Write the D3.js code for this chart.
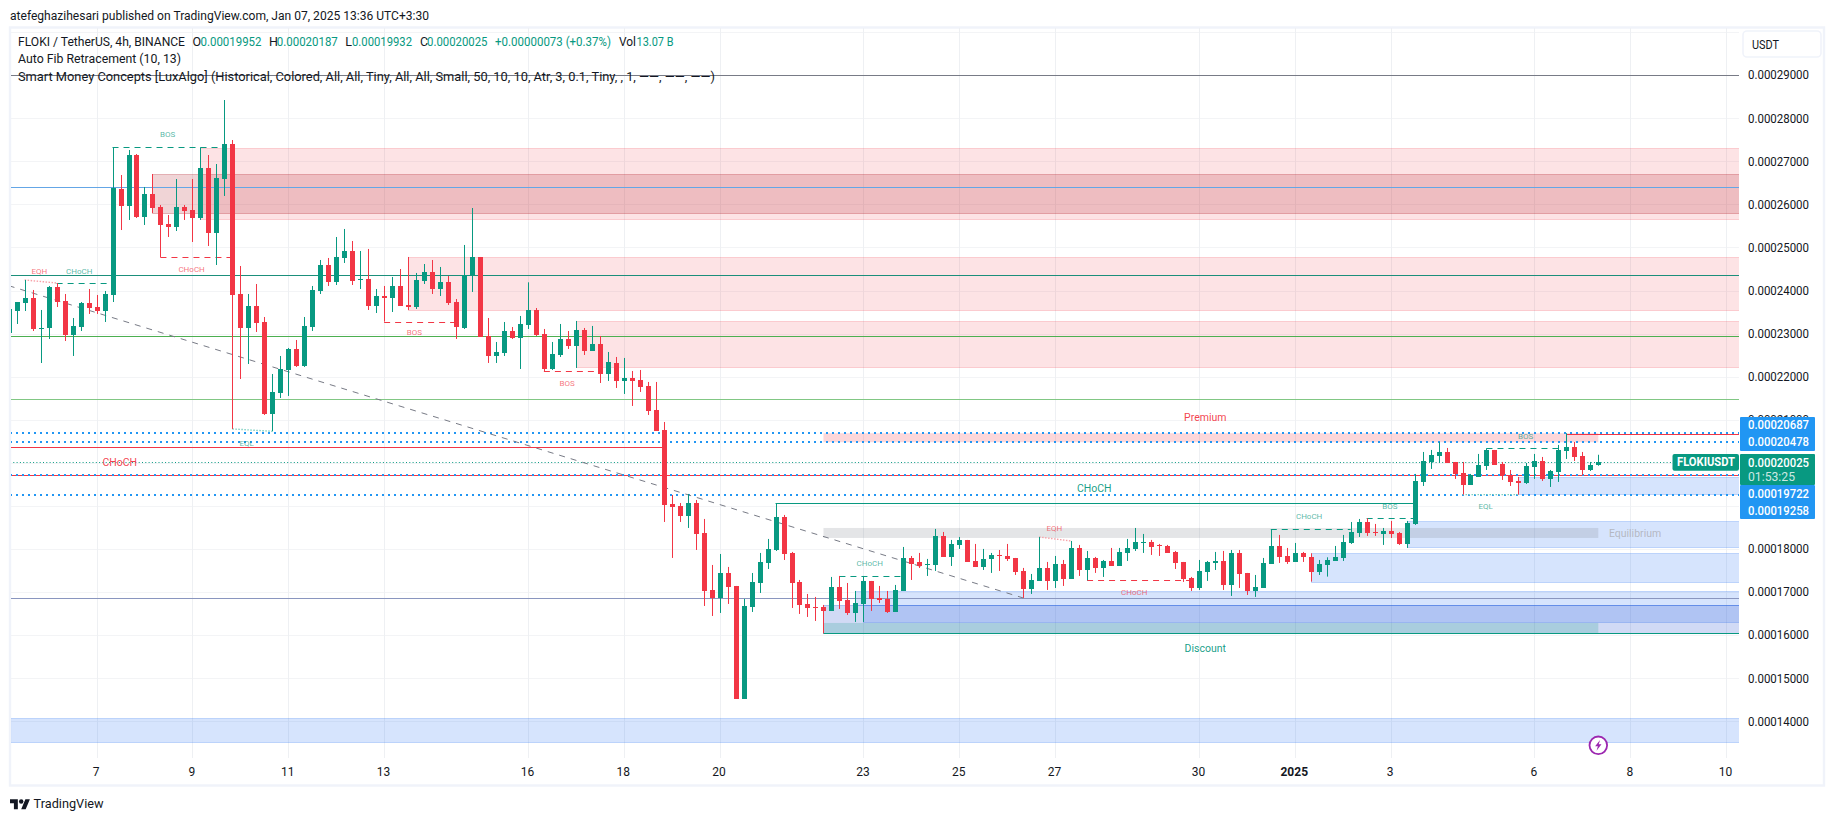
<!DOCTYPE html>
<html><head><meta charset="utf-8">
<script src="https://cdn.jsdelivr.net/npm/d3@7/dist/d3.min.js"></script>
<style>html,body{margin:0;padding:0;background:#fff}svg{display:block}text{font-family:Roboto,sans-serif}</style>
</head><body><div id="chart"></div>
<script>
// Prices are in units of 0.00000001 USDT. Candles are 4h apart.
const opens=[23006,23524,23710,23826,23107,23130,24081,23757,22967,23153,23710,23617,23524,23896,26356,25962,27145,25706,26240,25938,25544,25474,25938,25869,25683,26844,25335,26588,27401,23919,23130,23640,
23269,21134,21621,22155,22643,22248,23153,23989,24592,24198,24755,24917,24244,24267,23641,23873,23826,24105,23664,23617,24221,24430,24035,24198,23733,23130,24360,24778,22944,22480,22550,23060,22898,
23200,23548,22991,22178,22503,22875,22712,23084,22596,22759,22062,22318,21900,21970,21923,21784,21227,20763,19045,18999,18766,19068,18372,17049,16863,17443,17142,14519,16654,17211,17676,17977,
18743,17908,17235,16724,16654,16654,16562,17119,16817,16515,16724,17258,16863,16840,16538,17026,17792,17699,17629,17629,18302,17815,18094,18210,17722,17583,17769,17861,17838,17792,17490,17072,
17258,17560,17258,17652,17304,18024,17513,17792,17560,17722,17606,17908,18001,18140,18163,18101,18070,17931,17699,17328,17095,17467,17676,17722,17165,17908,17444,17026,17095,17652,18070,
17838,17699,17908,17815,17475,17629,17722,17792,18140,18372,18627,18395,18349,18419,18372,18117,18581,19556,20020,20159,20252,20020,19765,19486,19672,19927,20299,19974,19718,19579,19533,19904,20043,19626,19788,20275,20368,20159,19834,19952];
const highs=[23571,23733,24244,24012,23548,24105,24174,23919,23362,23733,24035,23896,23989,27323,26681,27261,27168,26403,26704,25985,25753,26588,25985,26588,27323,27145,26936,28422,27493,24569,23919,24151,
23385,22062,22480,22666,22851,23385,24105,24708,24755,25242,25428,25149,24917,24964,24035,24105,24314,24499,24778,24407,24615,24708,24546,24337,23803,25057,25915,24778,23362,22805,23269,23153,23409,
24190,23594,23107,22805,23223,23060,23293,23130,23177,22944,22573,22457,22434,22132,22155,21877,21877,20948,19254,19068,19277,19138,18697,17629,17884,17583,17142,16840,17443,17908,18233,19061,
18790,17931,17281,16956,16887,16701,17351,17374,17211,17026,17374,17258,17142,17026,17165,18047,17838,17908,17769,18465,18395,18210,18279,18210,18117,18001,17908,17977,18117,17792,17560,17420,
18279,17699,17838,17745,18186,18094,17954,17815,17745,18024,18024,18233,18488,18349,18210,18117,18094,17954,17699,17351,17745,17722,17931,17954,17977,17977,17444,17397,17792,18457,18326,
18024,18140,17931,17900,17745,17807,18070,18326,18627,18697,18713,18581,18488,18651,18395,18651,19742,20252,20299,20484,20345,20020,20020,19742,20206,20337,20299,20020,19834,19672,19997,20206,20136,19834,20415,20687,20484,20252,20020,20187];
const lows=[23006,23223,23524,23060,22317,22874,23617,22828,22480,23060,23455,23455,23269,23733,25404,25637,25683,25521,25799,24770,25242,25381,25637,25126,25637,25033,24592,26194,20786,21946,22294,23037,
21111,20732,21505,21552,22225,22225,23060,23919,24105,24128,24639,24128,24035,23548,23478,23277,23501,23641,23548,23571,24151,23919,23873,23664,22875,23107,23966,22921,22318,22318,22480,22875,22178,
23107,22944,22124,22155,22457,22643,22202,22503,22596,21853,21900,21737,21598,21320,21645,21111,20739,18627,17792,18627,18488,17977,16677,16445,16515,16724,14519,14519,16538,16979,17536,17954,
17745,16631,16492,16422,16329,16043,16562,16608,16469,16306,16306,16562,16747,16515,16538,17026,17281,17560,17374,17490,17815,17606,18001,17699,17583,17513,17444,17490,17722,17397,16863,16956,
17258,17049,17095,17142,17304,17374,17273,17444,17351,17606,17606,17722,17954,17908,17861,17838,17908,17536,17235,17026,17049,17258,17513,17049,16910,17095,16933,16887,17095,17652,17676,
17653,17699,17699,17243,17397,17359,17722,17722,18117,18279,18303,18303,18094,18256,18094,18024,18558,19463,19858,19997,19997,19626,19262,19486,19672,19834,19951,19602,19463,19262,19509,19626,19579,19440,19556,20090,20043,19718,19811,19932];
const closes=[23571,23733,23826,23107,23130,24081,23733,22967,23176,23710,23594,23524,23919,26379,25962,27145,25706,26240,25915,25521,25474,25938,25845,25683,26844,25335,26611,27401,23896,23130,23640,23246,
21134,21644,22178,22643,22248,23176,24012,24592,24198,24778,24917,24221,24267,23641,23873,23826,24105,23641,23617,24244,24430,24035,24198,23710,23153,24360,24778,22921,22480,22573,23060,22898,23223,
23548,22968,22178,22527,22875,22712,23084,22596,22759,22062,22341,21900,21970,21900,21761,21204,20739,19022,18975,18766,19068,18349,17026,16863,17443,17118,14519,16677,17235,17699,18000,18743,
17885,17211,16701,16631,16631,16562,17119,16794,16515,16747,17258,16840,16817,16538,17049,17792,17652,17606,17652,18302,17815,18117,18210,17699,17583,17769,17861,17838,17769,17467,17072,17281,
17560,17258,17652,17304,18024,17513,17792,17560,17722,17606,17931,18024,18163,18163,18047,18078,17908,17676,17304,17095,17490,17699,17722,17165,17908,17420,17026,17119,17676,18070,17815,
17699,17908,17815,17475,17653,17738,17815,18163,18395,18627,18372,18372,18419,18349,18117,18604,19579,20043,20183,20252,19997,19742,19486,19718,19951,20299,19951,19718,19556,19533,19927,20043,19626,19811,20299,20368,20136,19834,19951,20025];

const priceTicks=[29000,28000,27000,26000,25000,24000,23000,22000,21000,18000,17000,16000,15000,14000];
const gridPrices=[30000,29000,28000,27000,26000,25000,24000,23000,22000,21000,20000,19000,18000,17000,16000,15000,14000];
const dateTicks=[[2024,11,7,"7"],[2024,11,9,"9"],[2024,11,11,"11"],[2024,11,13,"13"],[2024,11,16,"16"],[2024,11,18,"18"],[2024,11,20,"20"],[2024,11,23,"23"],[2024,11,25,"25"],[2024,11,27,"27"],[2024,11,30,"30"],[2025,0,1,"2025"],[2025,0,3,"3"],[2025,0,6,"6"],[2025,0,8,"8"],[2025,0,10,"10"]];

// [first candle, upper price, lower price]
const swingBearZones=[[24,27301,25653],[50,24771,23555],[71,23286,22218]];
const internalBearZones=[[18,26698,25806]];
const swingBullZones=[[0,14071,13514],[106,17021,16701],[107,16701,16313],[163,17901,17242],[175,18644,18040],[189,19679,19278]];
const internalBullZones=[[102,16701,16044]];
const premiumBand=[20687,20478], equilibriumBand=[18488,18256], discountBand=[16283,16044];
const bandStart=102, bandEnd=199;

// [price, colour]
const fibLevels=[[29000,"#787b86"],[26396,"#64a6e6"],[24353,"#1b8f7b"],[22938,"#4caf50"],[21489,"#81c784"],[19711,"#f23645"],[16857,"#8a96bf"]];
// [first candle, last candle or null for the right edge, price, colour]
const solidSegments=[[0,82,20361,"#f23645"],[96,176,19061,"#089981"],[102,null,16044,"#089981"],[195,null,20680,"#f23645"]];
const blueLevels=[20687,20478,19722,19258];
const lastPrice=20025;
// [first candle, last candle, price, colour]
const dashedBreaks=[[13,27,27323,"#089981"],[19,28,24770,"#f23645"],[6,13,24174,"#089981"],[47,56,23277,"#f23645"],[67,74,22124,"#f23645"],[104,112,17374,"#089981"],[135,148,17273,"#f23645"],[158,168,18457,"#089981"],[170,176,18713,"#089981"],[185,194,20337,"#089981"]];
// [candle a, price a, candle b, price b, colour]
const equalLevels=[[2,24244,6,24174,"#f7a1a8"],[28,20786,33,20732,"#7fd0c2"],[129,18279,133,18186,"#f7a1a8"],[182,19262,189,19262,"#7fd0c2"]];
const fibTrend=[0,24112,127,16863];

// [text, candle position, price, colour]
const tinyLabels=[["EQH",3.83,24437,"#f23645"],["CHoCH",8.84,24437,"#089981"],["BOS",19.9,27626,"#089981"],["CHoCH",22.9,24493,"#f23645"],["BOS",50.8,23021,"#f23645"],["BOS",69.9,21837,"#f23645"],["EQL",29.8,20445,"#089981"],["CHoCH",107.8,17669,"#089981"],["EQH",130.9,18472,"#f23645"],["CHoCH",140.9,16987,"#f23645"],["CHoCH",162.8,18750,"#089981"],["BOS",172.9,18992,"#089981"],["EQL",184.9,18983,"#089981"],["BOS",189.9,20607,"#089981"]];
const smallLabels=[["CHoCH",13.9,20013,"#f23645"],["CHoCH",135.9,19410,"#089981"],["Premium",149.8,21048,"#f23645"],["Discount",149.8,15680,"#089981"],["Equilibrium",203.6,18356,"#b2b5be"]];

const W=1835,H=821,plotL=10,plotR=1739,plotT=28,plotB=758;
const H4=4*3600*1000,T0=Date.UTC(2024,11,5,4);
const when=i=>new Date(T0+i*H4);
const x=d3.scaleUtc().domain([when(1),when(199)]).range([16.67,1598.3]);
const y=d3.scaleLinear().domain([29000,14000]).range([75.1,721.3]);
const xi=i=>x(when(i));
const ys=p=>Math.round(y(p))+.5; // crisp horizontal rules
const UP="#089981",DOWN="#f23645",INK="#131722";

const svg=d3.select("#chart").append("svg").attr("width",W).attr("height",H).attr("viewBox",[0,0,W,H]);
svg.append("defs").append("clipPath").attr("id","plot").append("rect").attr("x",plotL+1).attr("y",plotT).attr("width",plotR-plotL-1).attr("height",plotB-plotT);
svg.append("rect").attr("x",10).attr("y",27.5).attr("width",1814).attr("height",758).attr("fill","#fff").attr("stroke","#f0f3fa").attr("stroke-width",2.4);

const g=svg.append("g").attr("clip-path","url(#plot)");
// grid
g.selectAll(".gh").data(gridPrices).join("line").attr("x1",plotL).attr("x2",plotR).attr("y1",ys).attr("y2",ys).attr("stroke","#f3f4f6");
const dates=dateTicks.map(d=>new Date(Date.UTC(d[0],d[1],d[2])));
g.selectAll(".gv").data(dates).join("line").attr("x1",d=>Math.round(x(d))+.5).attr("x2",d=>Math.round(x(d))+.5).attr("y1",plotT).attr("y2",plotB).attr("stroke","#eef0f3");

// zones
function zones(data,fill,fo,so){
  g.append("g").selectAll("rect").data(data).join("rect")
   .attr("x",d=>Math.round(xi(d[0]))+.5).attr("width",d=>plotR+5-xi(d[0]))
   .attr("y",d=>ys(d[1])).attr("height",d=>ys(d[2])-ys(d[1]))
   .attr("fill",fill).attr("fill-opacity",fo).attr("stroke",fill).attr("stroke-opacity",so);
}
zones(swingBearZones,"#f23645",.14,.2);
zones(internalBearZones,"#b22833",.2,.3);
zones(swingBullZones,"#3179f5",.2,.25);
zones(internalBullZones,"#1848cc",.2,.28);
function band(b,fill,op){
  g.append("rect").attr("x",xi(bandStart)).attr("width",xi(bandEnd)-xi(bandStart))
   .attr("y",y(b[0])).attr("height",y(b[1])-y(b[0])).attr("fill",fill).attr("fill-opacity",op);
}
band(premiumBand,"#f23645",.2);band(equilibriumBand,"#787b86",.2);band(discountBand,"#089981",.2);

// levels
g.selectAll(".fib").data(fibLevels).join("line").attr("x1",plotL).attr("x2",plotR).attr("y1",d=>ys(d[0])).attr("y2",d=>ys(d[0])).attr("stroke",d=>d[1]).attr("stroke-width",1);
g.selectAll(".seg").data(solidSegments).join("line").attr("x1",d=>xi(d[0])).attr("x2",d=>d[1]===null?plotR:xi(d[1])).attr("y1",d=>ys(d[2])).attr("y2",d=>ys(d[2])).attr("stroke",d=>d[3]).attr("stroke-width",1);
g.selectAll(".blue").data(blueLevels).join("line").attr("x1",plotL).attr("x2",plotR).attr("y1",d=>Math.round(y(d))).attr("y2",d=>Math.round(y(d))).attr("stroke","#2196f3").attr("stroke-width",2).attr("stroke-dasharray","2,4");
g.append("line").attr("x1",plotL).attr("x2",plotR).attr("y1",ys(lastPrice)).attr("y2",ys(lastPrice)).attr("stroke",UP).attr("stroke-width",1).attr("stroke-dasharray","1,2.3");
g.append("line").attr("x1",xi(fibTrend[0])).attr("y1",y(fibTrend[1])).attr("x2",xi(fibTrend[2])).attr("y2",y(fibTrend[3])).attr("stroke","#787b86").attr("stroke-width",1).attr("stroke-dasharray","6,6");
g.selectAll(".dash").data(dashedBreaks).join("line").attr("x1",d=>xi(d[0])).attr("x2",d=>xi(d[1])).attr("y1",d=>ys(d[2])).attr("y2",d=>ys(d[2])).attr("stroke",d=>d[3]).attr("stroke-width",1).attr("stroke-dasharray","6,5");
g.selectAll(".eq").data(equalLevels).join("line").attr("x1",d=>xi(d[0])).attr("y1",d=>y(d[1])).attr("x2",d=>xi(d[2])).attr("y2",d=>y(d[3])).attr("stroke",d=>d[4]).attr("stroke-width",1.4).attr("stroke-dasharray","1.5,1.5");

// candles
const idx=d3.range(opens.length);
const col=i=>closes[i]>=opens[i]?UP:DOWN;
g.append("g").selectAll("line").data(idx).join("line").attr("x1",i=>Math.round(xi(i))+.5).attr("x2",i=>Math.round(xi(i))+.5).attr("y1",i=>y(highs[i])).attr("y2",i=>y(lows[i])).attr("stroke",col).attr("stroke-width",1);
g.append("g").selectAll("rect").data(idx).join("rect").attr("x",i=>Math.round(xi(i))-2).attr("width",5)
 .attr("y",i=>Math.round(y(Math.max(opens[i],closes[i])))).attr("height",i=>Math.max(1,Math.round(Math.abs(y(opens[i])-y(closes[i]))))).attr("fill",col);

// chart labels
function labels(data,size,op){
  svg.append("g").selectAll("text").data(data).join("text").text(d=>d[0])
   .attr("x",d=>xi(d[1])).attr("y",d=>y(d[2])).attr("text-anchor","middle").attr("dominant-baseline","central")
   .attr("font-size",size).attr("fill",d=>d[3]).attr("fill-opacity",op);
}
labels(tinyLabels,8,.7);
labels(smallLabels,10.5,.95);

// axes
const yAxis=d3.axisRight(y).tickValues(priceTicks).tickSize(0).tickPadding(0).tickFormat(v=>(v/1e8).toFixed(8));
const ya=svg.append("g").attr("transform","translate(1748,0)").call(yAxis);
ya.select(".domain").remove();
ya.selectAll("text").attr("font-size",12).attr("fill",INK).attr("textLength",61).attr("lengthAdjust","spacingAndGlyphs").attr("font-family","Roboto,sans-serif");
const labelOf=new Map(dates.map((d,i)=>[+d,dateTicks[i][3]]));
const xAxis=d3.axisBottom(x).tickValues(dates).tickSize(0).tickPadding(0).tickFormat(d=>labelOf.get(+d));
const xa=svg.append("g").attr("transform","translate(-1,767.5)").call(xAxis);
xa.select(".domain").remove();
xa.selectAll("text").attr("font-size",12).attr("fill",INK).attr("font-family","Roboto,sans-serif").attr("font-weight",d=>labelOf.get(+d)==="2025"?700:400);

// price tags
const tags=svg.append("g");
function tag(xp,yp,w,h,fill,r){tags.append("rect").attr("x",xp).attr("y",yp).attr("width",w).attr("height",h).attr("rx",r||0).attr("fill",fill);}
function tagText(t,xp,yp,op,weight,len){const e=tags.append("text").text(t).attr("x",xp).attr("y",yp).attr("dominant-baseline","central").attr("font-size",12).attr("fill","#fff").attr("fill-opacity",op||1).attr("font-weight",weight||400);if(len)e.attr("textLength",len).attr("lengthAdjust","spacingAndGlyphs");}
tag(1740,417,75,34,"#2196f3",1);tag(1740,485,75,34,"#2196f3",1);tag(1740,454,75,31,UP,1);tag(1672.5,454,66.5,16.7,UP,2);
const fmt=v=>(v/1e8).toFixed(8);
tagText(fmt(blueLevels[0]),1748,425.3,1,500,61);
tagText(fmt(blueLevels[1]),1748,442.3,1,500,61);
tagText(fmt(lastPrice),1748,462.5,1,500,61);
tagText("01:53:25",1748,476.7,.8,400,47);
tagText(fmt(blueLevels[2]),1748,493.7,1,500,61);
tagText(fmt(blueLevels[3]),1748,510.7,1,500,61);
tagText("FLOKIUSDT",1677,462.4,1,700,58);

// header + legend
function txt(t,xp,yp,len,fill,size){const e=svg.append("text").text(t).attr("x",xp).attr("y",yp).attr("dominant-baseline","central").attr("font-size",size||12.5).attr("fill",fill||INK);if(len)e.attr("textLength",len).attr("lengthAdjust","spacingAndGlyphs");return e;}
txt("atefeghazihesari published on TradingView.com, Jan 07, 2025 13:36 UTC+3:30",10,15,419);
txt("FLOKI / TetherUS, 4h, BINANCE",18,41.7,167);
txt("O",192.6,41.7);txt("0.00019952",200.5,41.7,61,UP);
txt("H",269,41.7);txt("0.00020187",276.8,41.7,61,UP);
txt("L",345.2,41.7);txt("0.00019932",352,41.7,60,UP);
txt("C",420,41.7);txt("0.00020025",427,41.7,60.5,UP);
txt("+0.00000073 (+0.37%)",495,41.7,116,UP);
txt("Vol",619,41.7,17);txt("13.07 B",636.5,41.7,37,UP);
txt("Auto Fib Retracement (10, 13)",18,58.7,163);
txt("Smart Money Concepts [LuxAlgo] (Historical, Colored, All, All, Tiny, All, All, Small, 50, 10, 10, Atr, 3, 0.1, Tiny, , 1, ——, ——, ——)",18,76,697);

// currency button
svg.append("rect").attr("x",1743).attr("y",31).attr("width",78).attr("height",26).attr("rx",4).attr("fill","#fff").attr("stroke","#f0f3fa").attr("stroke-width",1.6);
txt("USDT",1752,44.5,27,INK,12);

// lightning marker
const zap=svg.append("g").attr("transform",`translate(${xi(199)},745.3)`);
zap.append("circle").attr("r",8.8).attr("fill","#fff").attr("stroke","#9c27b0").attr("stroke-width",1.8);
zap.append("path").attr("d","M1.8-5.4L-3.2 1H-.4L-1.8 5.4L3.2-1H.4Z").attr("fill","#9c27b0");

// footer logo
svg.append("path").attr("transform","translate(10,797) scale(.56)").attr("d","M14 22H7V11H0V4h14v18zM28 22h-8l7.5-18h8L28 22z").attr("fill",INK);
svg.append("circle").attr("cx",10+20*.56).attr("cy",797+8*.56).attr("r",4*.56).attr("fill",INK);
txt("TradingView",33.6,803.3,70,INK,13);
</script></body></html>
